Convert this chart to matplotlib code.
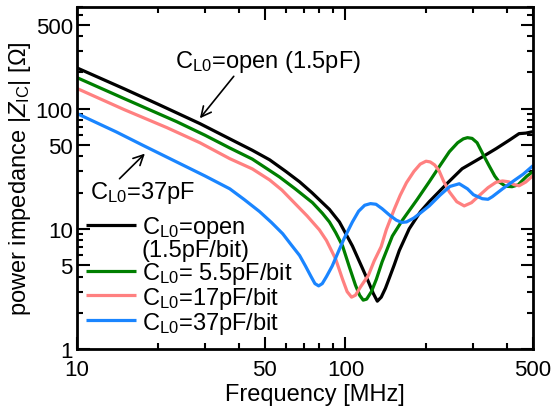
import matplotlib
matplotlib.use("Agg")
import matplotlib.pyplot as plt
from matplotlib.lines import Line2D
from matplotlib.ticker import FixedLocator, LogLocator, NullFormatter, FixedFormatter

plt.rcParams['font.family'] = ['Liberation Sans', 'DejaVu Sans']
plt.rcParams['mathtext.fontset'] = 'custom'
plt.rcParams['mathtext.rm'] = 'Liberation Sans'
plt.rcParams['mathtext.it'] = 'Liberation Sans:italic'

# ---- data (frequency in MHz, impedance in ohm) ----
black_f = [10, 15, 20, 28.7, 37.1, 45, 52.2, 60, 67.5, 75, 87.2, 95.0, 106.2, 115.7,
           122, 127, 131.5, 136, 141, 145.8, 152, 158.8, 172.9, 190, 205.3, 240, 272.2,
           320, 364.2, 410, 443.6, 470, 500]
black_z = [218, 146, 109, 75, 56, 45, 37.5, 30, 24.6, 20, 14.5, 11.4, 7.2, 4.7,
           3.6, 2.9, 2.5, 2.7, 3.2, 3.9, 5.0, 6.6, 10.0, 13.8, 16.8, 24.0, 31.6,
           39, 46.4, 55, 61.9, 62.5, 64.3]

green_f = [10, 15, 23.5, 30, 37.1, 45, 56.8, 65, 75.4, 82, 87.2, 92, 97.6, 103.5,
           109, 113, 116.5, 120, 125, 130.4, 137.0, 149.6, 163.1, 185, 205.3, 225,
           244, 262, 275, 285, 296.5, 309.5, 325, 343, 360, 373.7, 395, 417.8,
           440, 455.6, 475, 500]
green_z = [181, 121, 77.9, 60, 47, 38, 27, 21.5, 16.5, 13.5, 11.4, 9.3, 7.2, 4.8,
           3.4, 2.8, 2.55, 2.6, 3.0, 3.8, 5.3, 8.7, 11.8, 17.5, 24.6, 33.5,
           43.8, 52, 56, 57.3, 56.5, 52, 42, 33.5, 27.5, 24.6, 22.6, 22.4,
           23.2, 25.1, 27.5, 29.9]

pink_f = [10, 15, 21.6, 28.7, 37.1, 45, 52.2, 58, 63.6, 72, 80, 85, 92, 97.6,
          101.5, 105.4, 109, 114, 121.8, 128, 135.9, 142.0, 152, 160, 168.9, 180,
          190, 199.7, 207, 215, 223.2, 232, 243.9, 260, 277.1, 295, 314.4, 340,
          364.2, 385, 406.4, 425, 443.6, 470, 500]
pink_z = [147, 98, 69.5, 52, 38.3, 31.5, 25.5, 21, 17, 12.8, 9.8, 8.0, 5.6, 3.8,
          3.0, 2.7, 2.8, 3.3, 4.1, 5.4, 7.1, 9.8, 14.5, 19, 24.2, 30,
          34.5, 36.5, 36, 34, 30.5, 25, 20.3, 16.8, 15.5, 16.5, 18.8, 22,
          24.4, 25, 24.6, 23.3, 22.8, 24.5, 27.7]

blue_f = [10, 14, 17.6, 24.1, 30, 37.1, 42, 47.9, 53, 58.4, 63, 67.5, 71, 74.5, 77,
          79.5, 82, 85, 89.3, 94, 98.9, 106.2, 112, 118, 124, 130, 137.0, 146,
          154.8, 162, 168.9, 180, 190, 205.3, 225, 245, 265.6, 285, 300, 323.6,
          340, 352.8, 385, 418.8, 460, 500]
blue_z = [90.9, 64, 49.5, 35, 27.5, 21.5, 17.5, 13.9, 11.3, 9.1, 7.3, 6.0, 4.9, 4.0, 3.5,
          3.35, 3.5, 4.0, 4.9, 6.4, 8.3, 11.4, 14.0, 15.7, 16.2, 16.0, 14.7, 13.0,
          11.8, 11.3, 11.4, 12.3, 13.5, 15.5, 19, 22.5, 23.7, 21.5, 19.2, 17.8,
          17.6, 18.5, 21.5, 24.6, 28.5, 33.5]

labels = ["C$_{\\mathrm{L0}}$=open",
          "C$_{\\mathrm{L0}}$= 5.5pF/bit",
          "C$_{\\mathrm{L0}}$=17pF/bit",
          "C$_{\\mathrm{L0}}$=37pF/bit"]
extra_label = "(1.5pF/bit)"
colors = ['#000000', '#007F00', '#FF8080', '#1A85FF']

x_major = [10, 50, 100, 500]
y_major = [1, 5, 10, 50, 100, 500]

fig = plt.figure(figsize=(5.52, 4.14), dpi=100)
ax = fig.add_axes([77/552, 1-350/414, 456/552, 342/414])

series = [(black_f, black_z), (green_f, green_z), (pink_f, pink_z), (blue_f, blue_z)]
lines = []
for (f, z), c, lab in zip(series, colors, labels):
    ln, = ax.plot(f, z, color=c, lw=2.3, label=lab, solid_joinstyle='round',
                  solid_capstyle='butt')
    lines.append(ln)

ax.set_xscale('log')
ax.set_yscale('log')
ax.set_xlim(10, 500)
ax.set_ylim(1, 700)

ax.xaxis.set_major_locator(FixedLocator(x_major))
ax.xaxis.set_major_formatter(FixedFormatter([str(v) for v in x_major]))
ax.xaxis.set_minor_locator(LogLocator(base=10, subs=range(2, 10)))
ax.xaxis.set_minor_formatter(NullFormatter())
ax.yaxis.set_major_locator(FixedLocator(y_major))
ax.yaxis.set_major_formatter(FixedFormatter([str(v) for v in y_major]))
ax.yaxis.set_minor_locator(LogLocator(base=10, subs=range(2, 10)))
ax.yaxis.set_minor_formatter(NullFormatter())

ax.tick_params(which='both', direction='in', top=True, right=True, width=1.5)
ax.tick_params(which='major', length=9, labelsize=16)
ax.tick_params(which='minor', length=4.5)
ax.tick_params(axis='x', which='major', pad=7)
ax.tick_params(axis='y', which='major', pad=3)
for s in ax.spines.values():
    s.set_linewidth(2)

ax.set_xlabel("Frequency [MHz]", fontsize=17)
ax.xaxis.set_label_coords(0.522, -0.10)
ax.set_ylabel("power impedance |$\\mathit{Z}_{\\mathrm{IC}}$| [\u03a9]", fontsize=17, labelpad=2)

ax.annotate("C$_{\\mathrm{L0}}$=open (1.5pF)", xy=(28.7, 83), xytext=(23.1, 251),
            fontsize=17, ha='left', va='center',
            arrowprops=dict(arrowstyle='->', color='black', lw=1.2,
                            shrinkA=0, shrinkB=0, mutation_scale=18,
                            relpos=(0.33, 0.0)))
ax.annotate("", xy=(17.9, 42.2), xytext=(14.4, 26.1),
            arrowprops=dict(arrowstyle='->', color='black', lw=1.2,
                            shrinkA=0, shrinkB=0, mutation_scale=18))
ax.text(11.2, 20.3, "C$_{\\mathrm{L0}}$=37pF", fontsize=17, ha='left', va='center')

blank = Line2D([], [], color='none')
handles = [lines[0], blank, lines[1], lines[2], lines[3]]
leg_labels = [labels[0], extra_label, labels[1], labels[2], labels[3]]
leg = ax.legend(handles, leg_labels, loc='upper left', bbox_to_anchor=(0.02, 0.394),
                frameon=False, fontsize=17, handlelength=2.1, handletextpad=0.25,
                labelspacing=-0.05, borderpad=0, borderaxespad=0)

fig.savefig("out.png", dpi=100)
